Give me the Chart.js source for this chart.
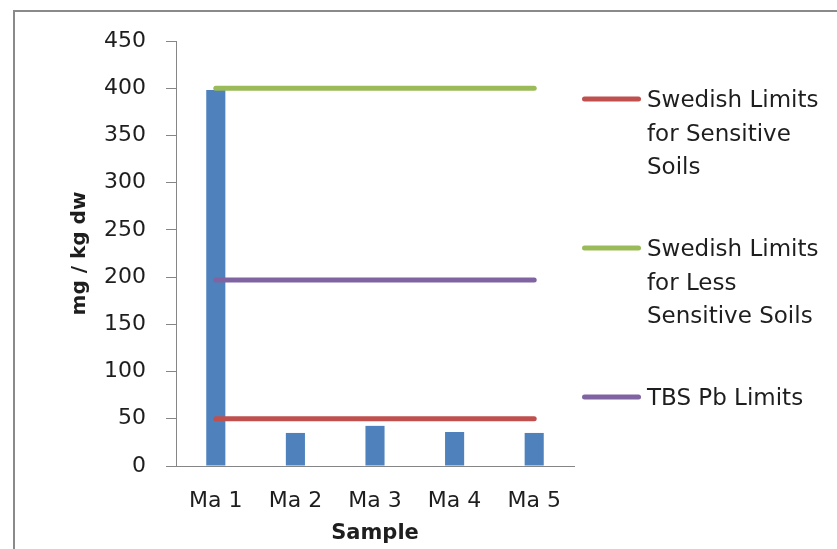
<!DOCTYPE html>
<html>
<head>
<meta charset="utf-8">
<script src="https://cdn.jsdelivr.net/npm/chart.js@4/dist/chart.umd.min.js"></script>
<style>
  html, body { margin: 0; padding: 0; background: #fff; overflow: hidden; }
  #wrap { position: relative; width: 837px; height: 549px; }
</style>
</head>
<body>
<div id="wrap"><canvas id="c" width="837" height="549"></canvas></div>
<script>
// Pb concentrations per sample (mg / kg dw)
const samples = ["Ma 1", "Ma 2", "Ma 3", "Ma 4", "Ma 5"];
const leadValues = [398, 35, 42.5, 36, 35];

// Guideline limits, one value per sample so the line spans all categories
const sensitiveLimit = [50, 50, 50, 50, 50];
const lessSensitiveLimit = [400, 400, 400, 400, 400];
const tbsLimit = [197, 197, 197, 197, 197];

// Legend names, split into the lines they are printed on
const limitNames = [
  ["Swedish Limits", "for Sensitive", "Soils"],
  ["Swedish Limits", "for Less", "Sensitive Soils"],
  ["TBS Pb Limits"]
];

const yTicks = [0, 50, 100, 150, 200, 250, 300, 350, 400, 450];
const axisTitles = { x: "Sample", y: "mg / kg dw" };

const TEXT = "#1e1e1e";
const AXIS = "#868686";
const FONT = "'DejaVu Sans', sans-serif";

// Gray frame around the whole chart
const framePlugin = {
  id: "frame",
  beforeDraw(chart) {
    const ctx = chart.ctx;
    ctx.save();
    ctx.fillStyle = "#fff";
    ctx.fillRect(0, 0, chart.width, chart.height);
    ctx.fillStyle = "#8a8a8a";
    ctx.fillRect(13, 10, chart.width - 13, 2);
    ctx.fillRect(13, 10, 2, chart.height - 10);
    ctx.restore();
  }
};

// Legend to the right of the plot, with wrapped item names
const sideLegend = {
  id: "sideLegend",
  afterDraw(chart) {
    const ctx = chart.ctx;
    const area = chart.chartArea;
    const x0 = area.right + 8;
    const sampleLen = 59;
    const textX = x0 + sampleLen + 6;
    const lineH = 33.5;
    const gap = 48.5;
    let baseline = 107;
    ctx.save();
    ctx.font = "23px " + FONT;
    ctx.textBaseline = "alphabetic";
    ctx.textAlign = "left";
    chart.data.datasets.forEach((ds) => {
      if (!ds.nameLines) return;
      const cy = baseline - 8;
      ctx.strokeStyle = ds.borderColor;
      ctx.lineWidth = 5;
      ctx.lineCap = "round";
      ctx.beginPath();
      ctx.moveTo(x0 + 2.5, cy);
      ctx.lineTo(x0 + sampleLen - 2.5, cy);
      ctx.stroke();
      ctx.fillStyle = TEXT;
      ds.nameLines.forEach((t, i) => ctx.fillText(t, textX, baseline + i * lineH));
      baseline += ds.nameLines.length * lineH + gap;
    });
    ctx.restore();
  }
};

function limitDataset(lines, values, color) {
  return {
    type: "line",
    label: lines.join(" "),
    nameLines: lines,
    data: values,
    borderColor: color,
    backgroundColor: color,
    borderWidth: 5,
    borderCapStyle: "round",
    pointRadius: 0,
    pointHoverRadius: 0,
    fill: false,
    order: 0
  };
}

new Chart(document.getElementById("c"), {
  data: {
    labels: samples,
    datasets: [
      limitDataset(limitNames[0], sensitiveLimit, "#C0504D"),
      limitDataset(limitNames[1], lessSensitiveLimit, "#9BBB59"),
      limitDataset(limitNames[2], tbsLimit, "#8064A2"),
      {
        type: "bar",
        label: "Pb",
        data: leadValues,
        backgroundColor: "#4F81BD",
        borderWidth: 0,
        categoryPercentage: 1,
        barPercentage: 0.24,
        order: 10
      }
    ]
  },
  options: {
    responsive: false,
    animation: false,
    devicePixelRatio: 1,
    layout: { padding: { left: 0, top: 41, right: 263, bottom: 0 } },
    plugins: {
      legend: { display: false },
      tooltip: { enabled: false },
      title: { display: false }
    },
    scales: {
      x: {
        offset: true,
        grid: { display: true, drawOnChartArea: false, drawTicks: false },
        border: { display: true, color: AXIS, width: 1 },
        ticks: { color: TEXT, font: { family: FONT, size: 22 }, padding: 22, maxRotation: 0 },
        title: {
          display: true,
          text: axisTitles.x,
          color: TEXT,
          font: { family: FONT, size: 21, weight: "bold" },
          padding: { top: 0, bottom: 3 }
        },
        afterFit(scale) { scale.height = 83; }
      },
      y: {
        min: 0,
        max: 450,
        afterBuildTicks(scale) { scale.ticks = yTicks.map(v => ({ value: v })); },
        grid: { display: true, drawOnChartArea: false, drawTicks: true, tickLength: 10, color: AXIS },
        border: { display: true, color: AXIS, width: 1 },
        ticks: { color: TEXT, font: { family: FONT, size: 22 }, padding: 20 },
        title: {
          display: true,
          text: axisTitles.y,
          color: TEXT,
          font: { family: FONT, size: 20, weight: "bold" },
          padding: { top: 68, bottom: 0 }
        },
        afterFit(scale) { scale.width = 176; }
      }
    }
  },
  plugins: [framePlugin, sideLegend]
});
</script>
</body>
</html>
